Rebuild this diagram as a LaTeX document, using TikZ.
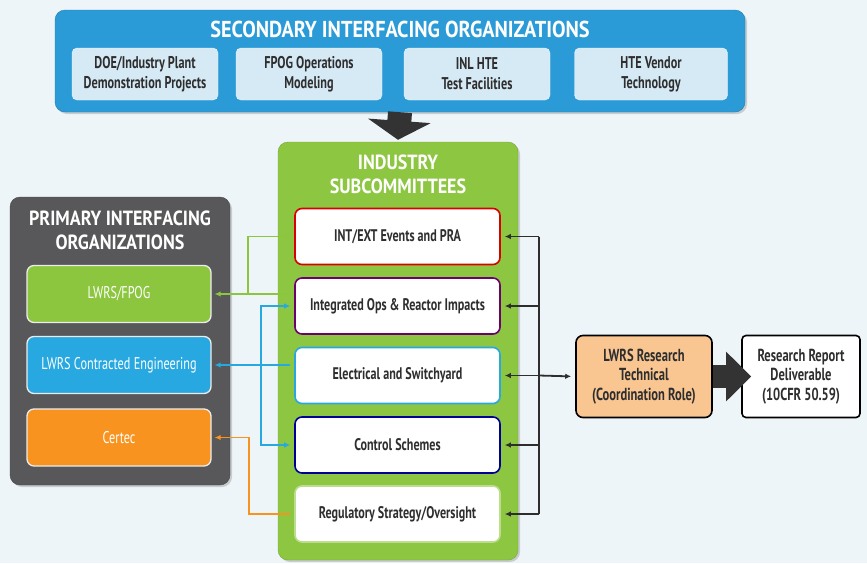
\documentclass[tikz,border=0pt]{standalone}
\usepackage{fontspec}
\setmainfont{PT Sans}[FakeStretch=0.72]
\newfontfamily\titlefont{PT Sans}[FakeStretch=0.88]
\usetikzlibrary{arrows.meta,shadows}

\definecolor{bgblue}{HTML}{EEF5F9}
\definecolor{secblue}{HTML}{2B9BD7}
\definecolor{secitemfill}{HTML}{D6EAF6}
\definecolor{indgreen}{HTML}{8DC641}
\definecolor{primgray}{HTML}{58585A}
\definecolor{fpoggreen}{HTML}{8CC63F}
\definecolor{engblue}{HTML}{27A8E0}
\definecolor{certorange}{HTML}{F7931E}
\definecolor{peach}{HTML}{F9C591}
\definecolor{txtdark}{HTML}{2E2E2E}
\definecolor{bigdark}{HTML}{333333}

\tikzstyle{panel}=[rectangle,
    rounded corners=10pt,
    inner sep=0pt,
    drop shadow={opacity=0.35,shadow xshift=2pt,shadow yshift=-2pt}]
\tikzstyle{paneltitle}=[text=white,
    align=center,
    font=\titlefont\bfseries\fontsize{20.5}{24}\selectfont]
\tikzstyle{secitem}=[rectangle,
    rounded corners=5pt,
    fill=secitemfill,
    draw=white!60!secitemfill,
    text=txtdark,
    minimum width=146pt,
    minimum height=52pt,
    align=center,
    font=\bfseries\fontsize{17}{20}\selectfont]
\tikzstyle{committee}=[rectangle,
    rounded corners=7pt,
    fill=white,
    line width=1.6pt,
    text=txtdark,
    minimum width=205pt,
    minimum height=56pt,
    font=\bfseries\fontsize{16.8}{19}\selectfont]
\tikzstyle{primitem}=[rectangle,
    rounded corners=7pt,
    draw=white!85!gray,
    line width=1.3pt,
    text=white,
    minimum width=184pt,
    minimum height=57pt,
    font=\fontsize{17}{19}\selectfont]
\tikzstyle{result}=[rectangle,
    rounded corners=7pt,
    draw=black,
    line width=1.6pt,
    text=txtdark,
    align=center,
    font=\bfseries\fontsize{17.4}{19.5}\selectfont]
\tikzstyle{link}=[line width=1.8pt,
    -{Latex[length=6pt,width=5.5pt]},
    shorten >=4pt]
\tikzstyle{bigarrow}=[draw=bigdark,
    line width=24pt]

\begin{document}
\begin{tikzpicture}[x=1pt,y=-1pt]
    \fill[bgblue] (0,0) rectangle (867,563);
    \useasboundingbox (0,0) rectangle (867,563);

    % secondary organizations
    \node (sec) [panel, fill=secblue, draw=secblue!80!black, minimum width=690pt, minimum height=102pt] at (400,61) {};
    \node (sectitle) [paneltitle, font=\titlefont\bfseries\fontsize{23}{26}\selectfont] at (400,29) {SECONDARY INTERFACING ORGANIZATIONS};
    \node (doe) [secitem] at (145,74) {DOE/Industry Plant\\Demonstration Projects};
    \node (fpogmod) [secitem] at (309,74) {FPOG Operations\\Modeling};
    \node (inl) [secitem] at (477,74) {INL HTE\\Test Facilities};
    \node (vendor) [secitem, minimum width=153pt] at (651,74) {HTE Vendor\\Technology};

    % industry subcommittees
    \node (ind) [panel, fill=indgreen, draw=indgreen!85!black, minimum width=240pt, minimum height=418pt] at (398,351) {};
    \node (indtitle) [paneltitle] at (398,174) {INDUSTRY\\SUBCOMMITTEES};
    \node (pra) [committee, draw=red!85!black] at (397.5,236.5) {INT/EXT Events and PRA};
    \node (ops) [committee, draw=violet!85!black] at (397.5,306) {Integrated Ops \& Reactor Impacts};
    \node (elec) [committee, draw=engblue] at (397.5,375.5) {Electrical and Switchyard};
    \node (ctrl) [committee, draw=blue!60!black] at (397.5,445) {Control Schemes};
    \node (reg) [committee, draw=indgreen!60!white] at (397.5,514) {Regulatory Strategy/Oversight};

    % primary organizations
    \node (prim) [panel, fill=primgray, draw=primgray!80!black, minimum width=220pt, minimum height=288pt] at (120,341) {};
    \node (primtitle) [paneltitle] at (120,230) {PRIMARY INTERFACING\\ORGANIZATIONS};
    \node (fpog) [primitem, fill=fpoggreen] at (119,294) {LWRS/FPOG};
    \node (eng) [primitem, fill=engblue] at (119,365) {LWRS Contracted Engineering};
    \node (certec) [primitem, fill=certorange] at (119,437.5) {Certec};

    % coordination and deliverable
    \node (lwrs) [result, fill=peach, minimum width=136pt, minimum height=82pt] at (644,376.5) {LWRS Research\\Technical\\(Coordination Role)};
    \node (report) [result, fill=white, rounded corners=4pt, minimum width=118pt, minimum height=82pt] at (801,376.5) {Research Report\\Deliverable\\(10CFR 50.59)};

    \coordinate (gsplit) at (248,294);
    \coordinate (bsplit) at (261,365);
    \coordinate (rbus) at (539,375.5);

    % left links
    \draw [link, fpoggreen, {Latex[length=6pt,width=5.5pt]}-, shorten <=3pt] (fpog.east) -- (fpog.east -| ops.west);
    \draw [link, fpoggreen] (gsplit) |- (pra.west);
    \draw [link, engblue, {Latex[length=6pt,width=5.5pt]}-, shorten <=3pt] (eng.east) -- (eng.east -| elec.west);
    \draw [link, engblue] (bsplit) |- (ops.west);
    \draw [link, engblue] (bsplit) |- (ctrl.west);
    \draw [link, certorange, {Latex[length=6pt,width=5.5pt]}-, shorten <=3pt] (certec.east) -- +(37,0) |- (reg.west);

    % right links
    \draw [line width=1.8pt, txtdark] (rbus |- pra.east) -- (rbus |- reg.east);
    \foreach \n in {pra,ops,elec,ctrl,reg}
        \draw [link, txtdark] (rbus |- \n.east) -- (\n.east);
    \draw [link, txtdark] (rbus) -- (lwrs.west);

    % big arrows
    \draw [bigarrow, -{Triangle[length=19pt,width=62pt]}] (sec.south) -- ([yshift=2pt]ind.north);
    \draw [bigarrow, line width=23pt, -{Triangle[length=25pt,width=48pt]}] (lwrs.east) -- ([xshift=10pt]report.west);
\end{tikzpicture}
\end{document}
